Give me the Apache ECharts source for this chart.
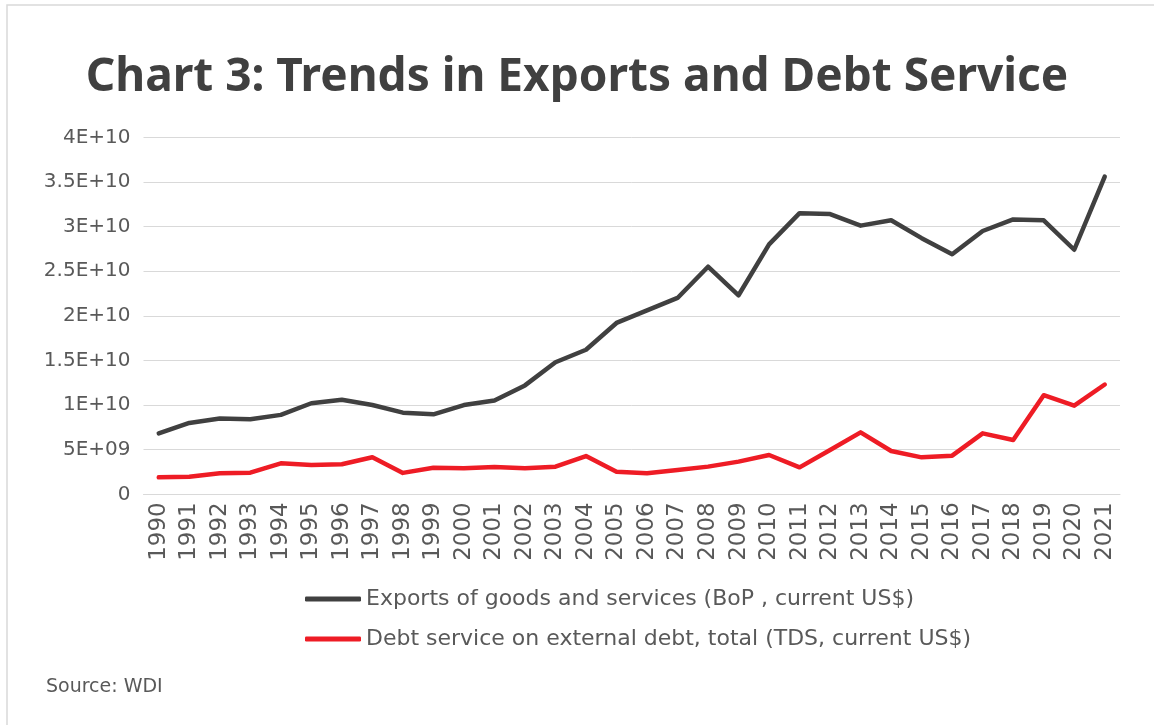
<!DOCTYPE html>
<html><head><meta charset="utf-8">
<script src="https://cdn.jsdelivr.net/npm/echarts@6/dist/echarts.min.js"></script>
<style>html,body{margin:0;padding:0;background:#fff}#c{width:1154px;height:725px}</style>
</head><body><div id="c"></div>
<script>
const years = ['1990','1991','1992','1993','1994','1995','1996','1997','1998','1999','2000','2001','2002','2003','2004','2005','2006','2007','2008','2009','2010','2011','2012','2013','2014','2015','2016','2017','2018','2019','2020','2021'];
const exportsVals = [6.83e9,8.0e9,8.5e9,8.4e9,8.9e9,1.02e10,1.06e10,1.0e10,9.15e9,8.96e9,1.0e10,1.05e10,1.22e10,1.48e10,1.62e10,1.92e10,2.06e10,2.2e10,2.55e10,2.23e10,2.8e10,3.15e10,3.14e10,3.01e10,3.07e10,2.87e10,2.69e10,2.95e10,3.08e10,3.07e10,2.74e10,3.56e10];
const debtVals = [1.9e9,1.97e9,2.35e9,2.42e9,3.47e9,3.28e9,3.36e9,4.15e9,2.4e9,2.98e9,2.91e9,3.06e9,2.91e9,3.1e9,4.29e9,2.54e9,2.35e9,2.72e9,3.1e9,3.66e9,4.4e9,3.02e9,4.96e9,6.94e9,4.85e9,4.14e9,4.33e9,6.83e9,6.08e9,1.11e10,9.93e9,1.23e10];
const seriesNames = ['Exports of goods and services (BoP , current US$)','Debt service on external debt, total (TDS, current US$)'];
const titleText = 'Chart 3: Trends in Exports and Debt Service';
const sourceText = 'Source: WDI';

function sci(v){
  if(v===0) return '0';
  let e = Math.floor(Math.log10(Math.abs(v)));
  let m = v/Math.pow(10,e);
  m = Math.round(m*100)/100;
  const es = (e<10?'0':'')+e;
  return m+'E+'+es;
}
const FONT = 'DejaVu Sans';
const chart = echarts.init(document.getElementById('c'));
chart.setOption({
  backgroundColor:'#fff',
  animation:false,
  textStyle:{fontFamily:FONT},
  title:{text:titleText,left:'center',top:50,textStyle:{fontSize:46,fontWeight:'bold',color:'#404040',fontFamily:'Noto Sans'}},
  graphic:[
    {type:'rect',shape:{x:7,y:5,width:1160,height:730},style:{fill:'none',stroke:'#d9d9d9',lineWidth:1.5},silent:true},
    {type:'text',left:46,top:678,style:{text:sourceText,fontSize:19,fill:'#595959',fontFamily:FONT}}
  ],
  grid:{left:143.5,right:34,top:137.3,bottom:230.7},
  legend:{orient:'vertical',left:300,top:583,itemGap:18,itemWidth:56,itemHeight:5,icon:'roundRect',
    textStyle:{fontSize:22,color:'#595959',fontFamily:FONT},
    data:seriesNames},
  xAxis:{type:'category',data:years,boundaryGap:true,
    axisLine:{lineStyle:{color:'#d9d9d9',width:1}},axisTick:{show:false},
    axisLabel:{rotate:90,fontSize:23,color:'#595959',margin:8,interval:0}},
  yAxis:{type:'value',min:0,max:4e10,interval:5e9,
    axisLine:{show:false},axisTick:{show:false},
    splitLine:{lineStyle:{color:'#d9d9d9',width:1}},
    axisLabel:{fontSize:20,color:'#595959',margin:13,formatter:sci}},
  series:[
    {name:seriesNames[0],type:'line',data:exportsVals,showSymbol:false,lineStyle:{width:4.5,color:'#404040',cap:'round',join:'round'},itemStyle:{color:'#404040'}},
    {name:seriesNames[1],type:'line',data:debtVals,showSymbol:false,lineStyle:{width:4.5,color:'#ee1c25',cap:'round',join:'round'},itemStyle:{color:'#ee1c25'}}
  ]
});
</script></body></html>
